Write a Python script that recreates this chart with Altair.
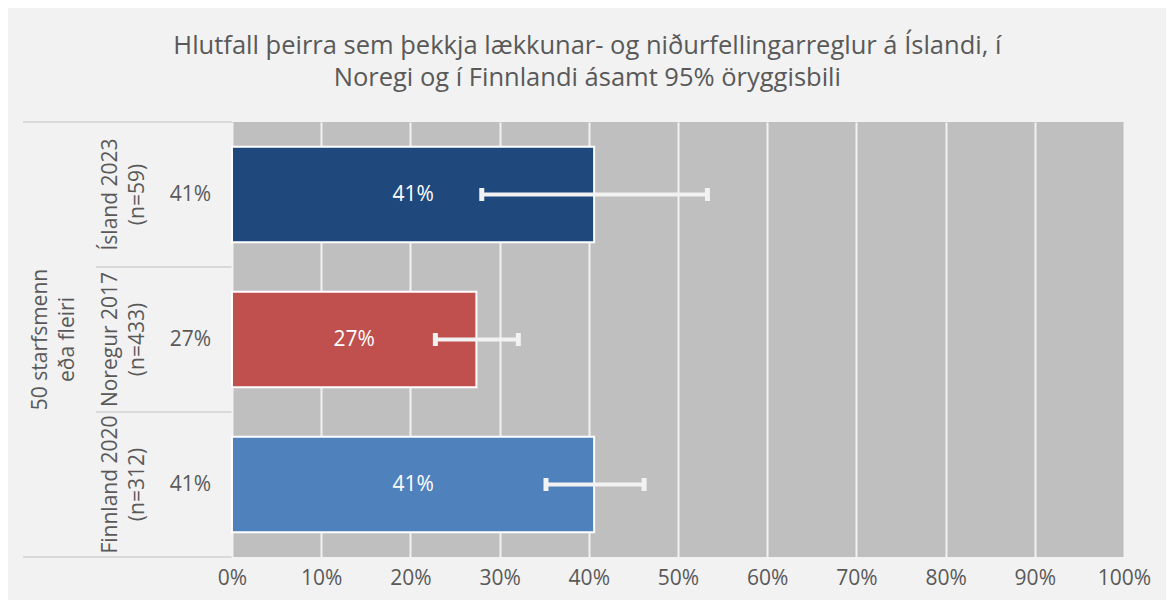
import altair as alt
import pandas as pd

# ---- data ----
countries = ["Ísland 2023", "Noregur 2017", "Finnland 2020"]
sample_sizes = ["(n=59)", "(n=433)", "(n=312)"]
shares = [40.6, 27.4, 40.6]
ci_low = [28.0, 22.8, 35.2]
ci_high = [53.3, 32.1, 46.2]
bar_colors = ["#1f497d", "#c0504d", "#4f81bd"]
group_label = ["50 starfsmenn", "eða fleiri"]
x_ticks = [0, 10, 20, 30, 40, 50, 60, 70, 80, 90, 100]
row_edges = [0, 1, 2, 3]
title_lines = ["Hlutfall þeirra sem þekkja lækkunar- og niðurfellingarreglur á Íslandi, í",
               "Noregi og í Finnlandi ásamt 95% öryggisbili"]

FONT = "Open Sans"
TXT = "#595959"
FS = 21
H = 435

df = pd.DataFrame({
    "country": countries,
    "n": sample_sizes,
    "share": shares,
    "lo": ci_low,
    "hi": ci_high,
    "row": list(range(len(countries))),
})
df["label"] = [[c, n] for c, n in zip(countries, sample_sizes)]
df["pct"] = [f"{round(s)}%" for s in shares]
edges = pd.DataFrame({"edge": row_edges})
outer_edges = pd.DataFrame({"edge": [row_edges[0], row_edges[-1]]})

line_color = "#d9d9d9"
yrow = alt.Scale(domain=[0, len(countries)], reverse=True, nice=False)

def rules(data, w):
    return alt.Chart(data).mark_rule(color=line_color, strokeWidth=2).encode(
        y=alt.Y("edge:Q", scale=yrow, axis=None),
        x=alt.value(0), x2=alt.value(w))

# panel 1: group label
W1 = 73
p1 = alt.layer(
    rules(outer_edges, W1),
    alt.Chart(pd.DataFrame({"t": [group_label]})).mark_text(
        angle=270, fontSize=FS, font=FONT, color=TXT, lineHeight=27,
        align="center", baseline="middle").encode(
        text="t", x=alt.value(18), y=alt.value(H / 2)),
).properties(width=W1, height=H)

# panel 2: category labels
W2 = 55
p2 = alt.layer(
    rules(edges, W2),
    alt.Chart(df).transform_calculate(mid="datum.row + 0.5").mark_text(
        angle=270, fontSize=FS, font=FONT, color=TXT, lineHeight=27,
        align="center", baseline="middle").encode(
        y=alt.Y("mid:Q", scale=yrow, axis=None),
        x=alt.value(W2 / 2 - 13), text="label"),
).properties(width=W2, height=H)

# panel 3: value labels
W3 = 81
p3 = alt.layer(
    rules(edges, W3),
    alt.Chart(df).transform_calculate(mid="datum.row + 0.5").mark_text(
        fontSize=FS, font=FONT, color=TXT, align="center", baseline="middle").encode(
        y=alt.Y("mid:Q", scale=yrow, axis=None),
        x=alt.value(W3 / 2 - 1), text="pct"),
).properties(width=W3, height=H)

# main panel
W4 = 892
xs = alt.Scale(domain=[0, 100], nice=False)
yb = alt.Y("country:N", sort=countries, axis=None,
           scale=alt.Scale(paddingInner=0.34, paddingOuter=0.17))
base = alt.Chart(df)
bars = base.mark_bar(stroke="white", strokeWidth=2).encode(
    x=alt.X("share:Q", scale=xs, axis=alt.Axis(
        values=x_ticks, labelExpr="datum.value + '%'", grid=True, gridColor="#f2f2f2",
        gridWidth=2, domain=False, ticks=False, labelFontSize=FS, labelFont=FONT,
        labelColor=TXT, labelPadding=10, labelFlush=False, title=None)),
    y=yb,
    color=alt.Color("country:N", sort=countries,
                    scale=alt.Scale(domain=countries, range=bar_colors), legend=None),
)
inner = base.transform_calculate(mid="datum.share / 2").mark_text(
    color="white", fontSize=FS, font=FONT, align="center", baseline="middle").encode(
    x=alt.X("mid:Q", scale=xs), y=yb, text="pct")
err = base.mark_rule(color="#f2f2f2", strokeWidth=4).encode(
    x=alt.X("lo:Q", scale=xs), x2="hi:Q", y=yb)
cap_lo = base.mark_tick(color="#f2f2f2", thickness=5, size=13, opacity=1).encode(
    x=alt.X("lo:Q", scale=xs), y=yb)
cap_hi = base.mark_tick(color="#f2f2f2", thickness=5, size=13, opacity=1).encode(
    x=alt.X("hi:Q", scale=xs), y=yb)
p4 = alt.layer(bars, err, cap_lo, cap_hi, inner).properties(
    width=W4, height=H, view=alt.ViewBackground(fill="#bfbfbf", stroke=None))

chart = alt.hconcat(p1, p2, p3, p4, spacing=0, bounds="flush").properties(
    title=alt.TitleParams(title_lines, fontSize=25.5, font=FONT, color=TXT,
                          fontWeight="normal", anchor="middle", lineHeight=32,
                          offset=30, dx=1),
    padding={"left": 14, "top": 25, "right": 15, "bottom": 12},
    background="#f2f2f2",
).configure_view(stroke=None)

chart.save("out.html", embed_options={"renderer": "svg", "actions": False})
